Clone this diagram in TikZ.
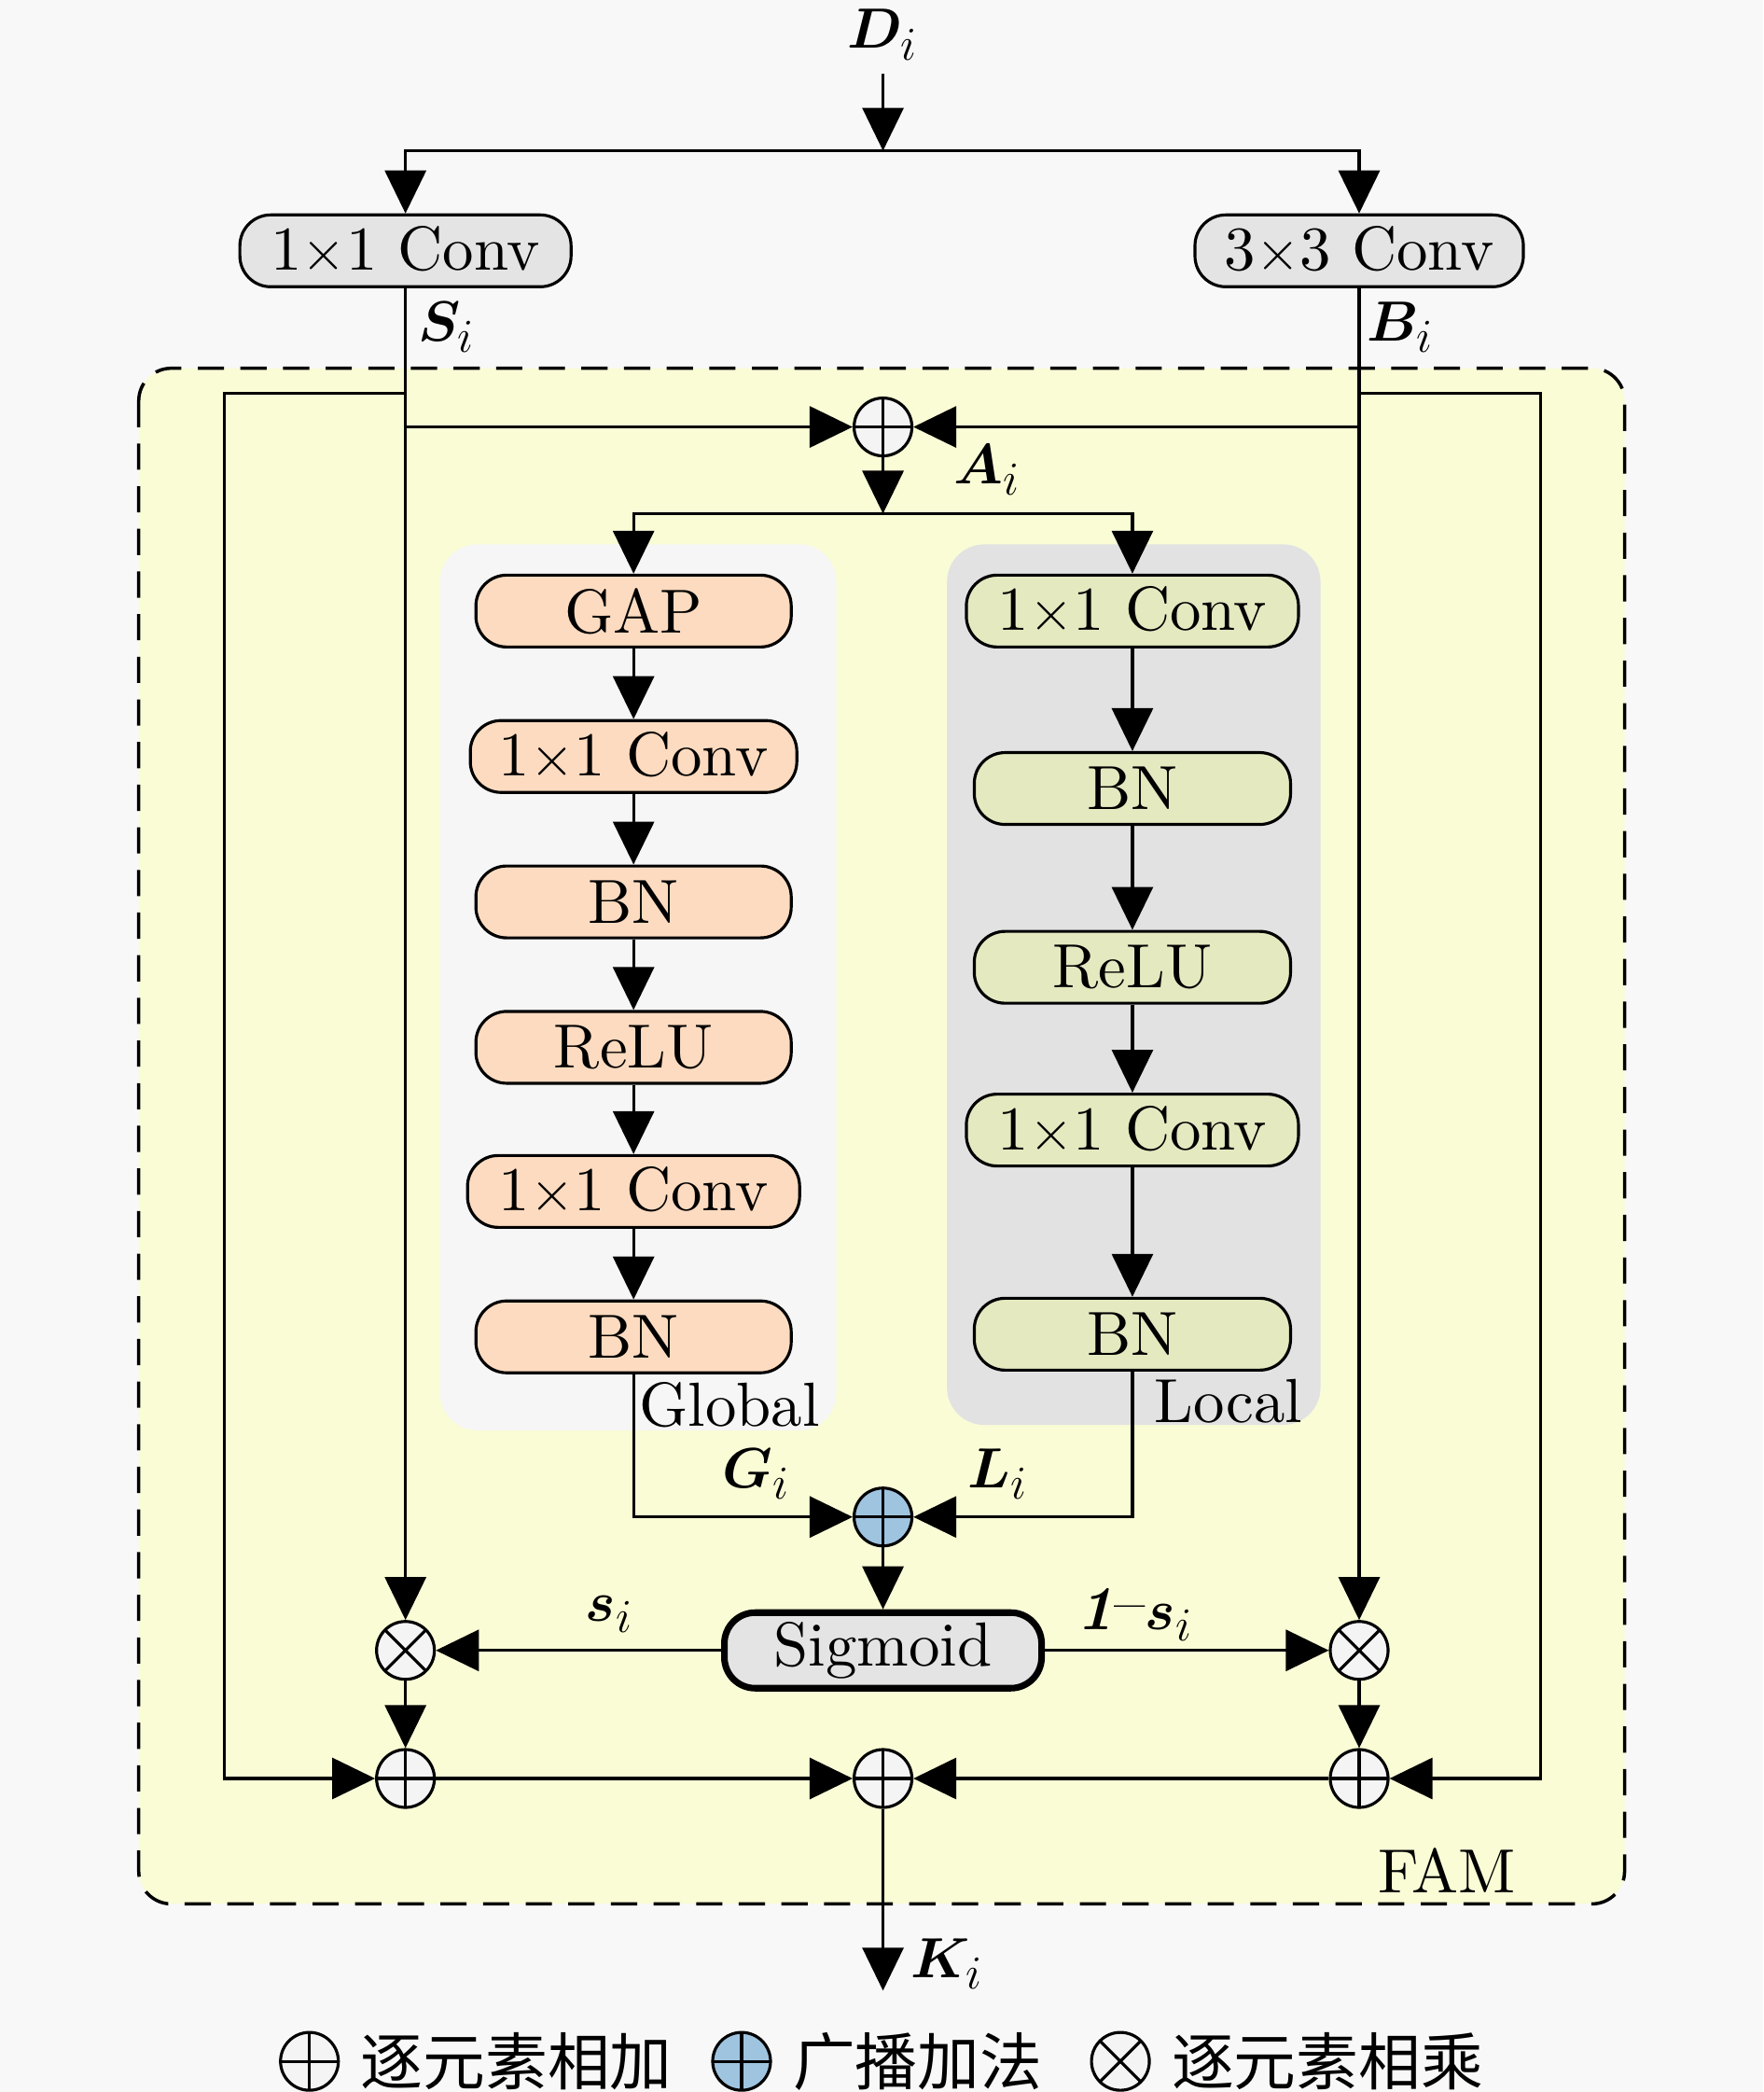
\documentclass[tikz,border=0pt]{standalone}
\usepackage{fontspec}
\usepackage{amsmath}
\usepackage{bm}
\usetikzlibrary{arrows.meta,calc}
\setmainfont{lmroman10}[Extension=.otf,UprightFont=*-regular,BoldFont=*-bold,ItalicFont=*-italic,BoldItalicFont=*-bolditalic]
\newfontfamily\cjkfont{Noto Sans CJK SC}
\definecolor{bgcol}{RGB}{248,248,248}
\definecolor{famfill}{RGB}{250,252,214}
\definecolor{globfill}{RGB}{246,246,246}
\definecolor{locfill}{RGB}{226,226,226}
\definecolor{orfill}{RGB}{253,219,192}
\definecolor{grfill}{RGB}{228,233,192}
\definecolor{gyfill}{RGB}{228,228,228}
\definecolor{bluefill}{RGB}{159,196,224}
\definecolor{circfill}{RGB}{244,244,244}
\newcommand\figfont{\fontsize{19}{22.5}\selectfont}
\begin{document}
\begin{tikzpicture}[x=0.014297cm,y=-0.014297cm,font=\figfont,
  conn/.style={line width=0.9pt},
  arr/.style={conn,-{Triangle[length=0.46cm,width=0.44cm]}},
  blk/.style={draw,line width=0.9pt,rounded corners=0.33cm,minimum height=0.77cm,inner sep=0pt},
  orbox/.style={blk,fill=orfill},
  grbox/.style={blk,fill=grfill},
  gybox/.style={blk,fill=gyfill},
  opc/.style={circle,draw,line width=0.9pt,fill=circfill,minimum size=0.62cm,inner sep=0pt},
  addop/.style={opc,path picture={\draw[line width=0.9pt] (path picture bounding box.north) -- (path picture bounding box.south) (path picture bounding box.west) -- (path picture bounding box.east);}},
  mulop/.style={opc,path picture={\draw[line width=0.9pt] (path picture bounding box.north west) -- (path picture bounding box.south east) (path picture bounding box.north east) -- (path picture bounding box.south west);}},
  lbl/.style={inner sep=1pt}]
\fill[bgcol] (0,0) rectangle (1322,1568);
\useasboundingbox (0,0) rectangle (1322,1568);
% containers
\draw[fill=famfill,rounded corners=0.35cm,line width=1pt,dash pattern=on 8pt off 5pt] (104,276) rectangle (1218,1427);
\fill[globfill,rounded corners=0.4cm] (330,408) rectangle (627,1072);
\fill[locfill,rounded corners=0.4cm] (710,408) rectangle (990,1068);
% nodes
\node[lbl] (D) at (662,26) {$\bm{D}_i$};
\coordinate (dstart) at (662,55);
\coordinate (split) at (662,113);
\node[gybox,minimum width=3.55cm] (c1) at (304,188) {1$\times$1 Conv};
\node[gybox,minimum width=3.52cm] (c3) at (1019,188) {3$\times$3 Conv};
\node[addop] (addA) at (662,320) {};
\coordinate (split2) at (662,385);
\node[orbox,minimum width=3.38cm] (gap) at (475,458) {GAP};
\node[orbox,minimum width=3.50cm] (gc1) at (475,567) {1$\times$1 Conv};
\node[orbox,minimum width=3.38cm] (gbn1) at (475,676) {BN};
\node[orbox,minimum width=3.38cm] (grelu) at (475,785) {ReLU};
\node[orbox,minimum width=3.56cm] (gc2) at (475,893) {1$\times$1 Conv};
\node[orbox,minimum width=3.38cm] (gbn2) at (475,1002) {BN};
\node[grbox,minimum width=3.56cm] (lc1) at (849,458) {1$\times$1 Conv};
\node[grbox,minimum width=3.39cm] (lbn1) at (849,591) {BN};
\node[grbox,minimum width=3.39cm] (lrelu) at (849,725) {ReLU};
\node[grbox,minimum width=3.56cm] (lc2) at (849,847) {1$\times$1 Conv};
\node[grbox,minimum width=3.39cm] (lbn2) at (849,1000) {BN};
\node[addop,fill=bluefill] (addB) at (662,1137) {};
\node[gybox,line width=2pt,minimum width=3.40cm,minimum height=0.81cm] (sig) at (662,1237) {Sigmoid};
\node[mulop] (mulL) at (304,1237) {};
\node[mulop] (mulR) at (1019,1237) {};
\node[addop] (addL) at (304,1333) {};
\node[addop] (addK) at (662,1333) {};
\node[addop] (addR) at (1019,1333) {};
\coordinate (kend) at (662,1492);
\coordinate (sL1) at (304,295);
\coordinate (sL2) at (304,320);
\coordinate (bR1) at (1019,295);
\coordinate (bR2) at (1019,320);
% labels
\node[lbl] (Sl) at (335,245) {$\bm{S}_i$};
\node[lbl] (Bl) at (1050,245) {$\bm{B}_i$};
\node[lbl] (Al) at (740,352) {$\bm{A}_i$};
\node[lbl] (Gl) at (567,1105) {$\bm{G}_i$};
\node[lbl] (Ll) at (748,1105) {$\bm{L}_i$};
\node[lbl] (sl) at (457,1210) {$\bm{s}_i$};
\node[lbl] (osl) at (851,1210) {{\bfseries\itshape 1}\raisebox{0.1em}{\textendash}$\bm{s}_i$};
\node[lbl] (Kl) at (710,1472) {$\bm{K}_i$};
\node[lbl] (glob) at (547,1053) {Global};
\node[lbl] (loc) at (921,1050) {Local};
\node[lbl] (fam) at (1085,1402) {FAM};
% connectors
\draw[arr] (dstart) -- (split);
\draw[conn] (304,113) -- (1019,113);
\draw[arr] (split) -| (c1);
\draw[arr] (split) -| (c3);
\draw[arr] (c1) -- (mulL);
\draw[arr] (c3) -- (mulR);
\draw[arr] (sL1) -- ++(-136,0) |- (addL);
\draw[arr] (bR1) -- ++(136,0) |- (addR);
\draw[arr] (sL2) -- (addA);
\draw[arr] (bR2) -- (addA);
\draw[arr] (addA) -- (split2);
\draw[conn] (475,385) -- (849,385);
\draw[arr] (split2) -| (gap);
\draw[arr] (split2) -| (lc1);
\draw[arr] (gap) -- (gc1);
\draw[arr] (gc1) -- (gbn1);
\draw[arr] (gbn1) -- (grelu);
\draw[arr] (grelu) -- (gc2);
\draw[arr] (gc2) -- (gbn2);
\draw[arr] (lc1) -- (lbn1);
\draw[arr] (lbn1) -- (lrelu);
\draw[arr] (lrelu) -- (lc2);
\draw[arr] (lc2) -- (lbn2);
\draw[arr] (gbn2) |- (addB);
\draw[arr] (lbn2) |- (addB);
\draw[arr] (addB) -- (sig);
\draw[arr] (sig) -- (mulL);
\draw[arr] (sig) -- (mulR);
\draw[arr] (mulL) -- (addL);
\draw[arr] (mulR) -- (addR);
\draw[arr] (addL) -- (addK);
\draw[arr] (addR) -- (addK);
\draw[arr] (addK) -- (kend);
% legend
\node[addop] (lg1) at (232,1545) {};
\node[anchor=west,inner sep=0pt] (lt1) at (270,1545) {\cjkfont 逐元素相加};
\node[addop,fill=bluefill] (lg2) at (556,1545) {};
\node[anchor=west,inner sep=0pt] (lt2) at (594,1545) {\cjkfont 广播加法};
\node[mulop] (lg3) at (840,1545) {};
\node[anchor=west,inner sep=0pt] (lt3) at (878,1545) {\cjkfont 逐元素相乘};
\end{tikzpicture}
\end{document}
